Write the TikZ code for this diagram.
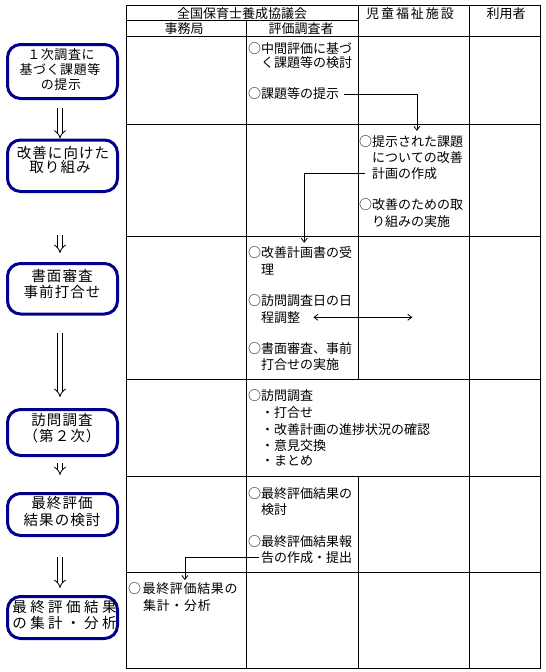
\documentclass[tikz,border=0pt]{standalone}
\usepackage{fontspec}
\newfontfamily\jp{Noto Sans CJK JP}
\newfontfamily\jpls[LetterSpace=5]{Noto Sans CJK JP}
\newfontfamily\jphd[LetterSpace=15]{Noto Sans CJK JP}
\newfontfamily\jpbx[LetterSpace=7]{Noto Sans CJK JP}
\newfontfamily\jpwd[LetterSpace=24]{Noto Sans CJK JP}
\newfontfamily\jpone[LetterSpace=4]{Noto Sans CJK JP}
\usetikzlibrary{arrows.meta}
\definecolor{boxblue}{RGB}{0,0,140}
\begin{document}
\begin{tikzpicture}[x=1pt,y=-1pt,
  grid/.style={line width=1pt,black},
  tx/.style={anchor=west,inner sep=0pt,font=\jp\fontsize{13}{15}\selectfont},
  txw/.style={anchor=west,inner sep=0pt,font=\jpls\fontsize{13}{15}\selectfont},
  hd/.style={anchor=center,inner sep=0pt,font=\jp\fontsize{13}{15}\selectfont},
  hdw/.style={anchor=center,inner sep=0pt,font=\jphd\fontsize{13}{15}\selectfont},
  flow/.style={draw=boxblue,line width=3pt,rounded corners=13pt,minimum width=110pt,inner sep=0pt},
  bt/.style={anchor=center,inner sep=0pt,font=\jpbx\fontsize{14.5}{16}\selectfont},
  btn/.style={anchor=center,inner sep=0pt,font=\jpone\fontsize{13}{15}\selectfont},
  btw/.style={anchor=center,inner sep=0pt,font=\jpwd\fontsize{14.5}{16}\selectfont},
  conn/.style={line width=0.8pt,-{Straight Barb[length=4pt,width=6pt]}},
  conn2/.style={line width=0.8pt,{Straight Barb[length=4pt,width=6pt]}-{Straight Barb[length=4pt,width=6pt]}},
  dbl/.style={double,double distance=3.6pt,line width=0.8pt,-{Implies}}
]
\useasboundingbox (0,0) rectangle (546,672);
% table grid
\draw[grid] (126,5) rectangle (540,668);
\draw[grid] (126,20.5) -- (358,20.5);
\draw[grid] (126,36) -- (540,36);
\foreach \yy in {124.3,236,379.7,476.5,572.5} \draw[grid] (126,\yy) -- (540,\yy);
\draw[grid] (246,20.5) -- (246,668);
\draw[grid] (358,5) -- (358,379.7);
\draw[grid] (358,476.5) -- (358,668);
\draw[grid] (469.5,5) -- (469.5,668);
% headers
\node[hd] (h1) at (242,13.3) {全国保育士養成協議会};
\node[hd] (h2) at (184,28.3) {事務局};
\node[hd] (h3) at (301,28.3) {評価調査者};
\node[hdw] (h4) at (410,13.3) {児童福祉施設};
\node[hd] (h5) at (506,13.3) {利用者};
% row 1
\node[tx] (t1a) at (248,48.5) {○中間評価に基づ};
\node[tx] (t1b) at (261,62.5) {く課題等の検討};
\node[tx] (t1c) at (248,94) {○課題等の提示};
% row 2
\node[tx] (t2a) at (359,142) {○提示された課題};
\node[tx] (t2b) at (372,158) {についての改善};
\node[tx] (t2c) at (372,173.5) {計画の作成};
\node[tx] (t2d) at (359,205) {○改善のための取};
\node[tx] (t2e) at (372,221.5) {り組みの実施};
% row 3
\node[tx] (t3a) at (248,253) {○改善計画書の受};
\node[tx] (t3b) at (261,269.3) {理};
\node[tx] (t3c) at (248,301) {○訪問調査日の日};
\node[tx] (t3d) at (261,317.3) {程調整};
\node[tx] (t3e) at (248,348.3) {○書面審査、事前};
\node[tx] (t3f) at (261,365) {打合せの実施};
% row 4
\node[tx] (t4a) at (248,395.5) {○訪問調査};
\node[tx] (t4b) at (261,412.7) {・打合せ};
\node[tx] (t4c) at (261,429.5) {・改善計画の進捗状況の確認};
\node[tx] (t4d) at (261,445.5) {・意見交換};
\node[tx] (t4e) at (261,461) {・まとめ};
% row 5
\node[tx] (t5a) at (248,494) {○最終評価結果の};
\node[tx] (t5b) at (261,510) {検討};
\node[tx] (t5c) at (248,541.7) {○最終評価結果報};
\node[tx] (t5d) at (261,557.3) {告の作成・提出};
% row 6
\node[txw] (t6a) at (128,588.3) {○\kern1.5pt 最終評価結果の};
\node[txw] (t6b) at (143,606) {集計・分析};
% connectors in table
\draw[conn] ([xshift=5pt]t1c.east) -| ([xshift=5.7pt,yshift=5pt]t2a.north);
\draw[conn] ([xshift=-7pt]t2c.west) -| ([xshift=4pt,yshift=4pt]t3a.north);
\coordinate (dr) at ([xshift=112pt]t3d.east);
\draw[conn2] ([xshift=13pt]t3d.east) -- (dr);
\draw[conn] ([xshift=-2pt]t5d.west) -| ([xshift=2pt,yshift=2pt]t6a.north);
% flow boxes
\node[flow,minimum height=54pt] (b1) at (62.5,71.5) {};
\node[flow,minimum height=51.5pt] (b2) at (62.5,165.75) {};
\node[flow,minimum height=50.5pt] (b3) at (62.5,288.75) {};
\node[flow,minimum height=46pt] (b4) at (62.5,432.5) {};
\node[flow,minimum height=42pt] (b5) at (62.5,514.5) {};
\node[flow,minimum height=42pt] (b6) at (62.5,617.5) {};
% box texts
\node[btn] (b1a) at (61,55) {１次調査に};
\node[btn] (b1b) at (60,70) {基づく課題等};
\node[btn] (b1c) at (61,84.5) {の提示};
\node[bt] (b2a) at (63,153) {改善に向けた};
\node[bt] (b2b) at (60,167.5) {取り組み};
\node[bt] (b3a) at (62,275.7) {書面審査};
\node[bt] (b3b) at (62,291.7) {事前打合せ};
\node[bt] (b4a) at (62,420.5) {訪問調査};
\node[bt] (b4b) at (62,435.5) {（第２次）};
\node[bt] (b5a) at (62,503.3) {最終評価};
\node[bt] (b5b) at (62,520) {結果の検討};
\node[btw] (b6a) at (64.5,606.7) {最終評価結果};
\node[btw] (b6b) at (64.5,623.3) {の集計・分析};
% double arrows
\draw[dbl,shorten <=8pt] ([xshift=-2.5pt]b1.south) -- ([xshift=-2.5pt]b2.north);
\draw[dbl,shorten <=42pt,shorten >=9pt] ([xshift=-2.5pt]b2.south) -- ([xshift=-2.5pt]b3.north);
\draw[dbl,shorten <=17pt,shorten >=11pt] ([xshift=-2.5pt]b3.south) -- ([xshift=-2.5pt]b4.north);
\draw[dbl,shorten <=6pt,shorten >=17pt] ([xshift=-2.5pt]b4.south) -- ([xshift=-2.5pt]b5.north);
\draw[dbl,shorten <=20pt,shorten >=7pt] ([xshift=-2.5pt]b5.south) -- ([xshift=-2.5pt]b6.north);
\end{tikzpicture}
\end{document}
